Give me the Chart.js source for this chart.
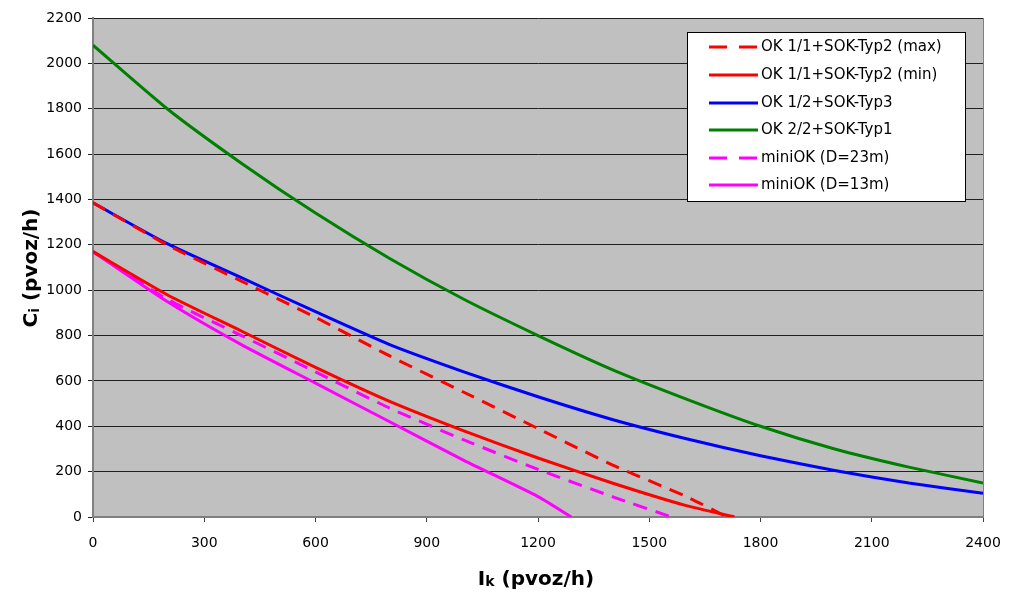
<!DOCTYPE html>
<html>
<head>
<meta charset="utf-8">
<script src="https://cdn.jsdelivr.net/npm/chart.js@4.4.1/dist/chart.umd.min.js"></script>
<style>
  html, body { margin: 0; padding: 0; background: #ffffff; }
  #wrap { width: 1023px; height: 599px; position: relative; }
</style>
</head>
<body>
<div id="wrap"><canvas id="chart" width="1023" height="599"></canvas></div>
<script>
// x positions (pvoz/h) and capacities
const xFull = [0, 200, 400, 600, 800, 1000, 1200, 1400, 1600, 1800, 2000, 2200, 2400];
const ok22 = [2080, 1800, 1560, 1340, 1140, 960, 800, 650, 520, 400, 300, 220, 150];
const ok12 = [1385, 1205, 1055, 905, 760, 640, 530, 430, 345, 270, 205, 150, 105];

const xMax = [0, 200, 400, 600, 800, 1000, 1200, 1400, 1600, 1710];
const ok11max = [1385, 1200, 1040, 880, 710, 550, 390, 230, 90, 0];

const xMin = [0, 200, 400, 600, 800, 1000, 1200, 1400, 1600, 1730];
const ok11min = [1170, 980, 820, 660, 510, 380, 260, 150, 50, 0];

const xMini23 = [0, 200, 400, 600, 800, 1000, 1200, 1400, 1560];
const mini23 = [1170, 960, 800, 640, 480, 340, 210, 90, 0];

const xMini13 = [0, 200, 400, 600, 800, 1000, 1200, 1290];
const mini13 = [1170, 950, 760, 590, 420, 250, 90, 0];

const seriesNames = [
    'OK 1/1+SOK-Typ2 (max)',
    'OK 1/1+SOK-Typ2 (min)',
    'OK 1/2+SOK-Typ3',
    'OK 2/2+SOK-Typ1',
    'miniOK (D=23m)',
    'miniOK (D=13m)'
];

function pts(xs, ys) {
    return xs.map((x, i) => ({ x: x, y: ys[i] }));
}

const FONT = '"DejaVu Sans", Tahoma, sans-serif';

// gray plot area + right border
const plotBg = {
    id: 'plotBg',
    beforeDraw(chart) {
        const a = chart.chartArea, c = chart.ctx;
        c.save();
        c.fillStyle = '#c0c0c0';
        c.fillRect(a.left, a.top, a.right - a.left, a.bottom - a.top);
        c.restore();
    },
    afterDatasetsDraw(chart) {
        const a = chart.chartArea, c = chart.ctx;
        c.save();
        c.strokeStyle = '#808080';
        c.lineWidth = 1;
        c.beginPath();
        c.moveTo(a.right + 0.5, a.top);
        c.lineTo(a.right + 0.5, a.bottom);
        c.stroke();
        c.restore();
    }
};

// legend box inside the plot and axis titles with subscripts
const extras = {
    id: 'extras',
    afterDraw(chart) {
        const c = chart.ctx;
        c.save();
        // legend
        const bx = 687, by = 32, bw = 278, bh = 169;
        c.fillStyle = '#ffffff';
        c.fillRect(bx, by, bw, bh);
        c.strokeStyle = '#000000';
        c.lineWidth = 1;
        c.strokeRect(bx + 0.5, by + 0.5, bw, bh);
        const rowY = [47, 75, 103, 130, 158, 185];
        chart.data.datasets.forEach((ds, i) => {
            const y = rowY[i];
            c.strokeStyle = ds.borderColor;
            c.lineWidth = ds.borderWidth;
            c.setLineDash(ds.borderDash ? [18, 12] : []);
            c.beginPath();
            c.moveTo(709, y);
            c.lineTo(758, y);
            c.stroke();
            c.setLineDash([]);
            c.fillStyle = '#000000';
            c.font = '15px ' + FONT;
            c.textBaseline = 'middle';
            c.textAlign = 'left';
            c.fillText(ds.label, 761, y);
        });

        // x title: Ik (pvoz/h)
        c.fillStyle = '#000000';
        c.textBaseline = 'alphabetic';
        const big = 'bold 20px ' + FONT, small = 'bold 14px ' + FONT;
        c.font = big;
        const w1 = c.measureText('I').width;
        const w3 = c.measureText(' (pvoz/h)').width;
        c.font = small;
        const w2 = c.measureText('k').width;
        let x = 536 - (w1 + w2 + w3) / 2;
        const yb = 585;
        c.font = big; c.fillText('I', x, yb); x += w1;
        c.font = small; c.fillText('k', x, yb + 1); x += w2;
        c.font = big; c.fillText(' (pvoz/h)', x, yb);

        // y title: Ci (pvoz/h)
        c.translate(37, 268);
        c.rotate(-Math.PI / 2);
        c.font = big;
        const v1 = c.measureText('C').width;
        const v3 = c.measureText(' (pvoz/h)').width;
        c.font = small;
        const v2 = c.measureText('i').width;
        let t = -(v1 + v2 + v3) / 2;
        c.font = big; c.fillText('C', t, 0); t += v1;
        c.font = small; c.fillText('i', t, 2); t += v2;
        c.font = big; c.fillText(' (pvoz/h)', t, 0);
        c.restore();
    }
};

const ctx = document.getElementById('chart').getContext('2d');
new Chart(ctx, {
    type: 'scatter',
    data: {
        datasets: [{
            label: seriesNames[0],
            data: pts(xMax, ok11max),
            borderColor: '#ff0000',
            borderWidth: 3,
            borderDash: [14, 9]
        }, {
            label: seriesNames[1],
            data: pts(xMin, ok11min),
            borderColor: '#ff0000',
            borderWidth: 3
        }, {
            label: seriesNames[2],
            data: pts(xFull, ok12),
            borderColor: '#0000ff',
            borderWidth: 3
        }, {
            label: seriesNames[3],
            data: pts(xFull, ok22),
            borderColor: '#008000',
            borderWidth: 3
        }, {
            label: seriesNames[4],
            data: pts(xMini23, mini23),
            borderColor: '#ff00ff',
            borderWidth: 3,
            borderDash: [14, 9]
        }, {
            label: seriesNames[5],
            data: pts(xMini13, mini13),
            borderColor: '#ff00ff',
            borderWidth: 3
        }].map(d => Object.assign(d, {
            showLine: true,
            pointRadius: 0,
            tension: 0.2,
            fill: false,
            backgroundColor: d.borderColor
        }))
    },
    options: {
        responsive: false,
        animation: false,
        layout: { padding: { top: 18, right: 40, left: 0, bottom: 0 } },
        plugins: {
            legend: { display: false },
            tooltip: { enabled: false }
        },
        scales: {
            x: {
                type: 'linear',
                min: 0,
                max: 2400,
                ticks: {
                    stepSize: 300,
                    color: '#000000',
                    font: { family: FONT, size: 14 },
                    padding: 13,
                    maxRotation: 0,
                    callback: v => String(v)
                },
                grid: { drawOnChartArea: false, drawTicks: true, tickLength: 5, color: '#404040' },
                border: { color: '#808080', width: 2 },
                afterFit(scale) { scale.height = 82; }
            },
            y: {
                type: 'linear',
                min: 0,
                max: 2200,
                ticks: {
                    stepSize: 200,
                    color: '#000000',
                    font: { family: FONT, size: 14 },
                    padding: 6,
                    callback: v => String(v)
                },
                grid: { color: '#202020', lineWidth: 1, tickLength: 5 },
                border: { color: '#808080', width: 2 },
                afterFit(scale) { scale.width = 93; }
            }
        }
    },
    plugins: [plotBg, extras]
});
</script>
</body>
</html>
